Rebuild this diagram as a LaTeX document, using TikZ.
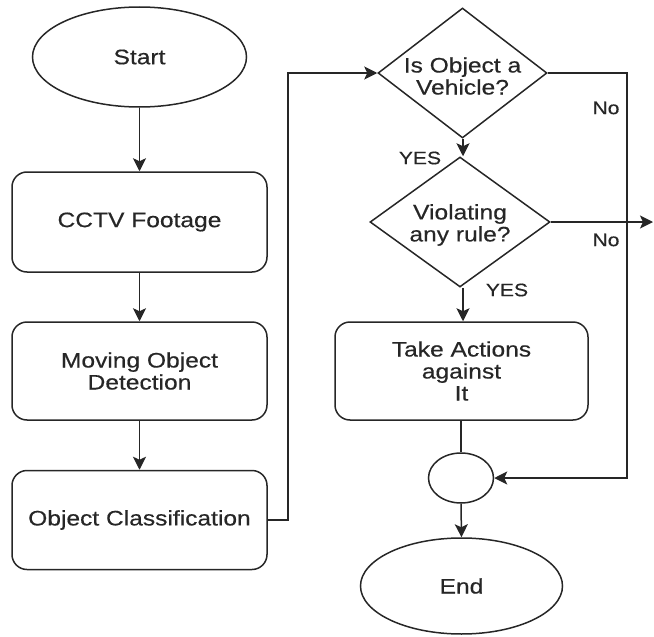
\documentclass[tikz,border=0pt]{standalone}
\usepackage{fontspec}
\setmainfont{Liberation Sans}[FakeStretch=1.17,FakeBold=0.4]
\usetikzlibrary{shapes.geometric,arrows.meta}
\begin{document}
\begin{tikzpicture}[x=1pt,y=-1pt,
  ink/.style={draw=black!85,line width=1.5pt},
  txt/.style={font=\fontsize{21}{22}\selectfont,text=black!85,align=center,inner sep=0pt},
  lbl/.style={font=\fontsize{18}{20}\selectfont,text=black!85,inner sep=0pt},
  term/.style={ink,ellipse,inner sep=0pt,txt},
  procbox/.style={ink,rectangle,rounded corners=15pt,minimum width=255pt,txt},
  dec/.style={ink,diamond,inner sep=0pt},
  flow/.style={ink,-{Stealth[length=13pt,width=13pt,inset=3pt]}},
  plain/.style={ink}]
\useasboundingbox (0,0) rectangle (654,637);
\node[term,minimum width=214pt,minimum height=100pt] (start) at (139.5,57) {Start};
\node[procbox,minimum height=100pt] (cctv) at (139.5,222) {CCTV Footage};
\node[procbox,minimum height=98pt] (mod) at (139.5,371) {Moving Object\\Detection};
\node[procbox,minimum height=99pt] (oc) at (139.5,520) {Object Classification};
\node[dec,minimum width=169pt,minimum height=130pt] (d1) at (462.5,73) {};
\node[txt] (d1t) at (462.5,76) {Is Object a\\Vehicle?};
\node[dec,minimum width=180pt,minimum height=130pt] (d2) at (460,222) {};
\node[txt] (d2t) at (460,225) {Violating\\any rule?};
\node[procbox,minimum width=253pt,minimum height=98pt] (ta) at (461.5,371) {Take Actions\\against\\It};
\node[ink,ellipse,minimum width=65pt,minimum height=50pt,inner sep=0pt] (junc) at (461,478) {};
\node[term,minimum width=202pt,minimum height=96pt] (end) at (461.5,586) {End};
\coordinate (out) at (653,222);
\coordinate (bendA) at (288,520);
\coordinate (bendB) at (627,73);

\draw[flow] (start.south) -- (cctv.north);
\draw[flow] (cctv.south) -- (mod.north);
\draw[flow] (mod.south) -- (oc.north);
\draw[flow] (oc.east) -- (bendA) |- (d1.west);
\draw[flow] (d1.south -| 463,0) -- (d2.north -| 463,0);
\draw[flow] (d2.south -| 463,0) -- (ta.north -| 463,0);
\draw[flow] (d1.east) -- (bendB) |- (junc.east);
\draw[flow] (d2.east) -- (out);
\draw[plain] (ta.south -| 461,0) -- (junc.north);
\draw[flow] (junc.south) -- (end.north);

\node[lbl] (yes1) at (420,158) {YES};
\node[lbl] (yes2) at (507,290) {YES};
\node[lbl] (no1) at (606,108) {No};
\node[lbl] (no2) at (606,240) {No};
\end{tikzpicture}
\end{document}
